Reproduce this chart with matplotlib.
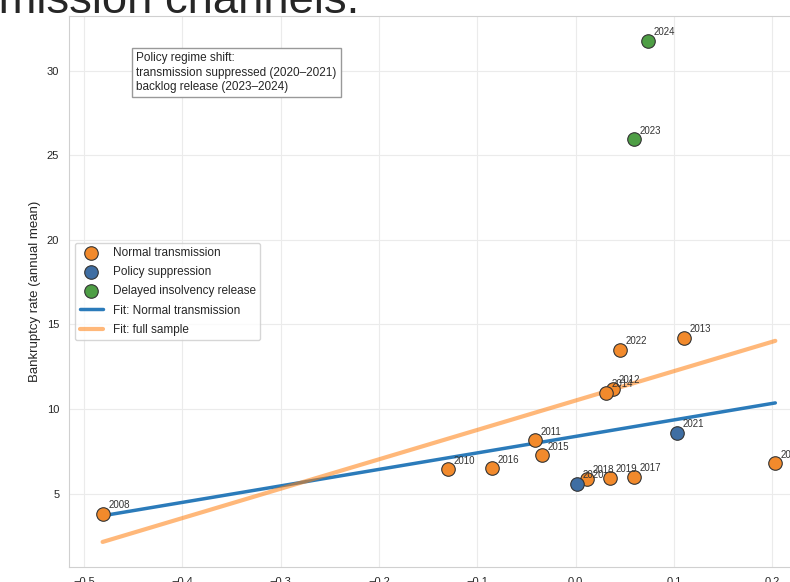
import numpy as np
import matplotlib
matplotlib.use("Agg")
import matplotlib.pyplot as plt
import seaborn as sns

# annual points: shock (x) vs bankruptcy rate (y)
normal_years = [2008, 2009, 2010, 2011, 2012, 2013, 2014, 2015, 2016, 2017, 2018, 2019, 2022]
normal_x = [-0.481, 0.203, -0.130, -0.041, 0.038, 0.110, 0.031, -0.034, -0.085, 0.059, 0.012, 0.035, 0.045]
normal_y = [3.82, 6.79, 6.44, 8.15, 11.2, 14.2, 10.97, 7.26, 6.5, 5.98, 5.89, 5.92, 13.49]

suppr_years = [2020, 2021]
suppr_x = [0.001, 0.103]
suppr_y = [5.59, 8.6]

release_years = [2023, 2024]
release_x = [0.059, 0.074]
release_y = [25.94, 31.75]

title = "Exchange-rate shocks and bankruptcies: policy regime shifts in transmission channels."
note = "Policy regime shift:\ntransmission suppressed (2020\u20132021)\nbacklog release (2023\u20132024)"

sns.set_style("whitegrid")
plt.rcParams['font.family'] = ['Liberation Sans', 'DejaVu Sans']

fig = plt.figure(figsize=(7.9, 5.82), dpi=100)
ax = fig.add_axes([0.0873, 0.0258, 0.9367, 0.9467])

# fits
xs = np.array([min(normal_x), max(normal_x)])
k1, b1 = np.polyfit(normal_x, normal_y, 1)
all_x = normal_x + suppr_x + release_x
all_y = normal_y + suppr_y + release_y
k2, b2 = np.polyfit(all_x, all_y, 1)

ms = dict(s=95, edgecolor='#333333', linewidth=0.8, zorder=3)
ax.scatter(normal_x, normal_y, color='#f28a2c', label='Normal transmission', **ms)
ax.scatter(suppr_x, suppr_y, color='#3f6ea3', label='Policy suppression', **ms)
ax.scatter(release_x, release_y, color='#4e9e45', label='Delayed insolvency release', **ms)
ax.plot(xs, k1 * xs + b1, color='#2b7bba', lw=2.5, zorder=2, label='Fit: Normal transmission')
ax.plot(xs, k2 * xs + b2, color='#ff7f0e', alpha=0.55, lw=3, zorder=2, label='Fit: full sample')

for yrs, px, py in [(normal_years, normal_x, normal_y), (suppr_years, suppr_x, suppr_y),
                    (release_years, release_x, release_y)]:
    for yr, a, b in zip(yrs, px, py):
        ax.annotate(str(yr), (a, b), xytext=(4, 4), textcoords='offset points',
                    fontsize=7, color='#333333')

ax.text(0.091, 0.935, note, transform=ax.transAxes, fontsize=8.5, va='top', ha='left',
        linespacing=1.3,
        bbox=dict(boxstyle='square,pad=0.35', facecolor='white', edgecolor='#999999'))

ax.set_ylabel('Bankruptcy rate (annual mean)', fontsize=9.5)
ax.tick_params(labelsize=8)
ax.grid(color='#ebebeb', lw=0.8)
for sp in ax.spines.values():
    sp.set_color('#d0d0d0')

ax.legend(loc='center left', fontsize=8.5, frameon=True, borderaxespad=0.5, labelspacing=0.6)

fig.text(359 / 790, 1 - 13 / 582, title, ha='right', va='baseline', fontsize=32.7)

fig.savefig('out.png', dpi=100)
